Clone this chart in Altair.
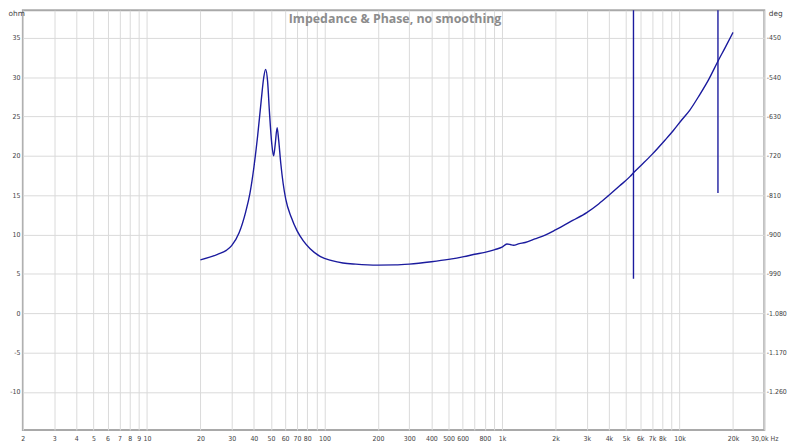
import altair as alt
import pandas as pd

# Impedance curve (Hz, ohm)
freq = [20, 25, 28, 30, 33, 36, 38, 40, 42, 44, 45.5, 46.6, 47.8, 49, 50.5, 51.7, 52.8, 54.1,
        55.2, 56.7, 58.5, 60.5, 65, 70, 76, 83, 95, 110, 127, 150, 200, 250, 300, 400,
        500, 610, 700, 800, 912, 1000, 1065, 1110, 1160, 1250, 1350, 1530, 1750, 2000,
        2500, 3000, 3500, 4000, 4600, 5270, 5500, 6200,
        7000, 8270, 9200, 10300, 11400, 13000, 14500, 16500, 18000, 20000]
ohm = [6.8, 7.5, 8.0, 8.6, 10.2, 12.9, 15.2, 18.5, 22.5, 27.0, 30.0, 31.0, 29.5, 25.5, 21.5,
       20.0, 21.5, 23.6, 22.0, 19.1, 16.5, 14.5, 12.2, 10.5, 9.2, 8.2, 7.2, 6.7, 6.4,
       6.25, 6.13, 6.15, 6.25, 6.55, 6.85, 7.2, 7.5, 7.75, 8.1, 8.4, 8.8, 8.75, 8.65,
       8.85, 9.0, 9.45, 9.95, 10.6, 11.8, 12.8, 13.9, 15.0, 16.2, 17.4, 17.85, 19.0,
       20.2, 22.0, 23.2, 24.6, 25.8, 27.8, 29.6, 32.1, 33.7, 35.7]

# Measurement artefact spikes (Hz, ohm top, ohm bottom)
spike_freq = [5500, 16450]
spike_top = [50.0, 50.0]
spike_bottom = [4.4, 15.3]

x_ticks = [m * d for d in [1, 10, 100, 1000, 10000] for m in range(1, 10) if 2 <= m * d <= 30000]
x_hidden = [90, 700, 900, 9000]
x_label_text = {}
for v in x_ticks:
    if v in x_hidden:
        continue
    if v < 1000:
        x_label_text[v] = str(v)
    elif v < 30000:
        x_label_text[v] = f"{v // 1000}k"
    else:
        x_label_text[v] = "30,0k Hz"

y_ticks = [35, 30, 25, 20, 15, 10, 5, 0, -5, -10]
y_domain = [-14.82, 38.52]
title_text = "Impedance & Phase, no smoothing"

rows = [{"s": "main", "i": k, "freq": f, "ohm": o} for k, (f, o) in enumerate(zip(freq, ohm))]
for n, (f, t, b) in enumerate(zip(spike_freq, spike_top, spike_bottom)):
    rows.append({"s": f"spike{n}", "i": 0, "freq": f, "ohm": t})
    rows.append({"s": f"spike{n}", "i": 1, "freq": f, "ohm": b})
df = pd.DataFrame(rows)

x_expr = "".join(f"datum.value == {v} ? '{t}' : " for v, t in x_label_text.items()) + "''"

x_enc = alt.X(
    "freq:Q",
    scale=alt.Scale(type="log", domain=[2, 30000], nice=False),
    axis=alt.Axis(values=x_ticks, labelExpr=x_expr, title=None, grid=True,
                  labelPadding=5, labelOverlap=False, labelFlush=False),
)

line = alt.Chart(df).mark_line(color="#1b1b9e", strokeWidth=1.4, clip=True,
                               interpolate="monotone").encode(
    x=x_enc,
    y=alt.Y(
        "ohm:Q",
        scale=alt.Scale(domain=y_domain, nice=False, zero=False),
        axis=alt.Axis(values=y_ticks, grid=True, title="ohm", titleAngle=0,
                      titleX=-15, titleY=-1, titleAlign="left", titleBaseline="top",
                      titleFontWeight="normal", titleFontSize=7.5, titleColor="#444",
                      labelPadding=3,
                      labelExpr="(datum.value < 0 ? '-' : '') + abs(datum.value)"),
    ),
    detail="s:N",
    order="i:Q",
)

right = alt.Chart(df).mark_line(opacity=0).encode(
    x=x_enc,
    y=alt.Y(
        "ohm:Q",
        scale=alt.Scale(domain=y_domain, nice=False, zero=False),
        axis=alt.Axis(orient="right", values=y_ticks, grid=False, title="deg", titleAngle=0,
                      titleX=11, titleY=-1, titleAlign="center", titleBaseline="top",
                      titleFontWeight="normal", titleFontSize=7.5, titleColor="#444",
                      labelPadding=2,
                      labelExpr="'-' + replace(format(abs(-450 + (datum.value - 35) * 18), ','), ',', '.')"),
    ),
    detail="s:N",
    order="i:Q",
)

title = alt.Chart(pd.DataFrame({"t": [title_text]})).mark_text(
    font="Open Sans", fontWeight="bold", fontSize=12.5, color="#8c8c8c",
    align="center", baseline="middle",
).encode(x=alt.value(376), y=alt.value(9), text="t:N")

chart = (
    alt.layer(line, right, title)
    .resolve_scale(y="independent")
    .properties(
        width=749, height=424,
        autosize=alt.AutoSizeParams(type="none"),
        padding={"left": 15, "top": 0, "right": 28, "bottom": 12},
        background="white",
    )
    .configure_axis(
        labelFont="DejaVu Sans Condensed, Liberation Sans Narrow, DejaVu Sans",
        labelFontSize=7, labelColor="#444",
        titleFont="DejaVu Sans", tickSize=0, domain=False,
        gridColor="#dadada", gridWidth=1,
    )
    .configure_view(stroke="#a9a9a9", strokeWidth=2)
)

chart.save("out.html", embed_options={"renderer": "svg", "actions": False})
